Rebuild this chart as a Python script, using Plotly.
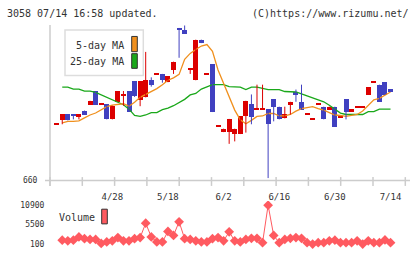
import plotly.graph_objects as go

# ---- data ----
opens  = [776,784,796,796,790,803,815,843,816,816,785,821,834,843,863,825,830,866,878,878,
          861,887,972,968,888,865,948,878,898,771,759,759,755,755,791,816,806,806,806,826,
          811,787,815,841,821,796,786,816,811,805,811,791,826,801,811,811,835,861,856,861,847]
highs  = [776,796,796,796,796,803,823,843,816,816,813,843,843,843,863,863,923,871,878,878,
          873,903,972,977,888,948,948,878,898,771,766,786,766,791,823,836,856,856,806,826,
          811,811,821,846,856,796,786,816,811,811,811,791,826,806,811,811,851,861,856,861,847]
lows   = [776,775,783,785,785,795,815,815,816,785,785,821,813,801,831,812,830,852,878,860,
          861,878,911,960,878,865,941,878,800,771,759,735,740,755,758,775,806,806,665,781,
          785,787,795,821,805,796,786,816,785,805,770,791,785,801,811,811,835,861,821,835,841]
closes = [776,796,783,791,796,795,823,815,816,785,813,843,835,801,833,863,866,856,878,865,
          873,903,967,960,888,948,941,878,800,771,766,786,766,791,823,790,806,806,775,810,
          785,796,821,835,805,796,786,816,785,811,770,791,801,806,811,811,851,861,821,835,841]

ma5  = [778,781,781,782,788,794,798,805,811,814,816,817,812,820,830,836,842,848,856,865,
        870,877,908,920,928,935,938,924,886,858,830,804,784,776,783,791,792,797,797,792,
        792,795,802,807,809,811,807,804,799,794,793,791,793,795,802,814,825,828,835,841]
ma25 = [851,851,847,847,843,843,840,835,829,825,820,815,806,793,791,794,799,799,805,808,
        813,819,826,835,838,847,852,856,856,856,852,851,851,846,851,851,849,846,846,846,
        842,841,841,837,833,830,826,821,814,806,798,795,795,795,795,801,801,806,806,806]
volume = [1200,1000,1200,2100,1600,1400,1400,300,700,1000,1900,1000,1000,1600,1900,5900,2100,700,700,3600,
          2500,6300,1600,1400,1000,700,700,1600,1900,1000,3500,1000,700,1400,1700,1700,500,10900,2500,500,
          1400,1700,1900,1700,500,100,500,500,1000,1200,500,500,500,1000,100,1000,500,500,1250,500]

tick_idx = [10, 20, 30, 40, 50, 60]
tick_labels = ["4/28", "5/18", "6/2", "6/16", "6/30", "7/14"]
vol_ticks = [100, 5500, 10900]
price_ticks = [660]

# ---- styling ----
RED = "#dc0000"
BLUE = "#4040c0"
ORANGE = "#f0901e"
GREEN = "#1aa81a"
VOLC = "#ff5a60"
GRAY = "#cccccc"
TXT = "#333333"
MONO = "DejaVu Sans Mono"

n = len(opens)
xs = list(range(n))
xma = list(range(1, n))

fig = go.Figure()

# moving averages (below candles)
fig.add_trace(go.Scatter(x=xma, y=ma25, mode="lines", line=dict(color=GREEN, width=1.3),
                         xaxis="x", yaxis="y", hoverinfo="skip"))
fig.add_trace(go.Scatter(x=xma, y=ma5, mode="lines", line=dict(color=ORANGE, width=1.3),
                         xaxis="x", yaxis="y", hoverinfo="skip"))

# candles: wicks
for col, up in ((RED, True), (BLUE, False)):
    wx, wy = [], []
    for i in xs:
        is_up = closes[i] >= opens[i]
        if is_up == up and highs[i] != lows[i]:
            wx += [i, i, None]
            wy += [lows[i], highs[i], None]
    fig.add_trace(go.Scatter(x=wx, y=wy, mode="lines", line=dict(color=col, width=1),
                             xaxis="x", yaxis="y", hoverinfo="skip"))

# candles: bodies
bases, heights, colors = [], [], []
MINH = 2.4
for i in xs:
    lo, hi = min(opens[i], closes[i]), max(opens[i], closes[i])
    h = hi - lo
    if h < MINH:
        mid = (lo + hi) / 2
        lo, h = mid - MINH / 2, MINH
    bases.append(lo)
    heights.append(h)
    colors.append(RED if closes[i] >= opens[i] else BLUE)
fig.add_trace(go.Bar(x=xs, y=heights, base=bases, width=0.9,
                     marker=dict(color=colors, line=dict(width=0)),
                     xaxis="x", yaxis="y", hoverinfo="skip"))

# volume
fig.add_trace(go.Scatter(x=xma, y=volume, mode="lines+markers",
                         line=dict(color=VOLC, width=1),
                         marker=dict(symbol="diamond", size=7.5, color=VOLC),
                         xaxis="x2", yaxis="y2", hoverinfo="skip"))

# ---- layout geometry ----
W, H = 420, 259
ML, MR, MT, MB = 50, 10, 25, 5
PW, PH = W - ML - MR, H - MT - MB


def px(X):
    return (X - ML) / PW


def py(Y):
    return (H - MB - Y) / PH


main_bottom = py(184)
vol_top = py(205)

shapes = []
# bottom axis line of price chart
shapes.append(dict(type="line", xref="paper", yref="paper", x0=px(45), x1=px(410),
                   y0=main_bottom, y1=main_bottom, line=dict(color=GRAY, width=1.5)))
# left axis line
shapes.append(dict(type="line", xref="paper", yref="paper", x0=0, x1=0,
                   y0=py(189.5), y1=py(25), line=dict(color=GRAY, width=1.5)))
# divider ticks
for k in range(12):
    xx = px(50 + k * 32.3)
    shapes.append(dict(type="line", xref="paper", yref="paper", x0=xx, x1=xx,
                       y0=py(180.5), y1=py(189.5), line=dict(color=GRAY, width=1.5)))
# MA legend box
shapes.append(dict(type="rect", xref="paper", yref="paper", x0=px(65), x1=px(143.3),
                   y0=py(76.7), y1=py(30), line=dict(color="#dddddd", width=1.5),
                   fillcolor="white", layer="above"))
shapes.append(dict(type="rect", xref="paper", yref="paper", x0=px(131.7), x1=px(137.3),
                   y0=py(52.3), y1=py(36.7), line=dict(color="#333333", width=1),
                   fillcolor=ORANGE, layer="above"))
shapes.append(dict(type="rect", xref="paper", yref="paper", x0=px(131.7), x1=px(137.3),
                   y0=py(69.3), y1=py(54.3), line=dict(color="#333333", width=1),
                   fillcolor=GREEN, layer="above"))
# volume legend swatch
shapes.append(dict(type="rect", xref="paper", yref="paper", x0=px(101.7), x1=px(107.3),
                   y0=py(228.3), y1=py(213.3), line=dict(color="#333333", width=1),
                   fillcolor=VOLC, layer="above"))

annotations = [
    dict(text="3058 07/14 16:58 updated.", xref="paper", yref="paper", x=px(5), y=py(13),
         xanchor="left", yanchor="middle", showarrow=False, font=dict(family=MONO, size=10, color=TXT)),
    dict(text="(C)https://www.rizumu.net/", xref="paper", yref="paper", x=px(411), y=py(13),
         xanchor="right", yanchor="middle", showarrow=False, font=dict(family=MONO, size=10, color=TXT)),
    dict(text="5-day MA", xref="paper", yref="paper", x=px(126), y=py(45.5),
         xanchor="right", yanchor="middle", showarrow=False, font=dict(family=MONO, size=10, color=TXT)),
    dict(text="25-day MA", xref="paper", yref="paper", x=px(126), y=py(62.5),
         xanchor="right", yanchor="middle", showarrow=False, font=dict(family=MONO, size=10, color=TXT)),
    dict(text="Volume", xref="paper", yref="paper", x=px(57), y=py(221.5),
         xanchor="left", yanchor="middle", showarrow=False, font=dict(family=MONO, size=10, color=TXT)),
]

fig.update_layout(
    width=W, height=H,
    margin=dict(l=ML, r=MR, t=MT, b=MB),
    paper_bgcolor="white", plot_bgcolor="white",
    showlegend=False, bargap=0,
    font=dict(family=MONO, color=TXT),
    xaxis=dict(domain=[0, 1], range=[-1.2, 63.5], anchor="y",
               tickvals=tick_idx, ticktext=tick_labels, tickfont=dict(size=9, color=TXT),
               ticks="outside", ticklen=8, tickcolor="rgba(0,0,0,0)",
               showgrid=False, zeroline=False, showline=False),
    yaxis=dict(domain=[main_bottom, 1], range=[660, 978], anchor="x",
               tickvals=price_ticks, ticktext=["660"], tickfont=dict(size=8, color=TXT),
               ticks="outside", ticklen=10, tickcolor="rgba(0,0,0,0)",
               showgrid=False, zeroline=False, showline=False),
    xaxis2=dict(domain=[0, 1], range=[-1.2, 63.5], anchor="y2", matches="x",
                showticklabels=False, showgrid=False, zeroline=False, showline=False),
    yaxis2=dict(domain=[0, vol_top], range=[-1257, 12040], anchor="x2",
                tickvals=vol_ticks, ticktext=[str(v) for v in vol_ticks],
                tickfont=dict(size=8, color=TXT),
                ticks="outside", ticklen=3, tickcolor="rgba(0,0,0,0)",
                showgrid=False, zeroline=False, showline=False),
    shapes=shapes, annotations=annotations,
)

fig.write_html("out.html")
